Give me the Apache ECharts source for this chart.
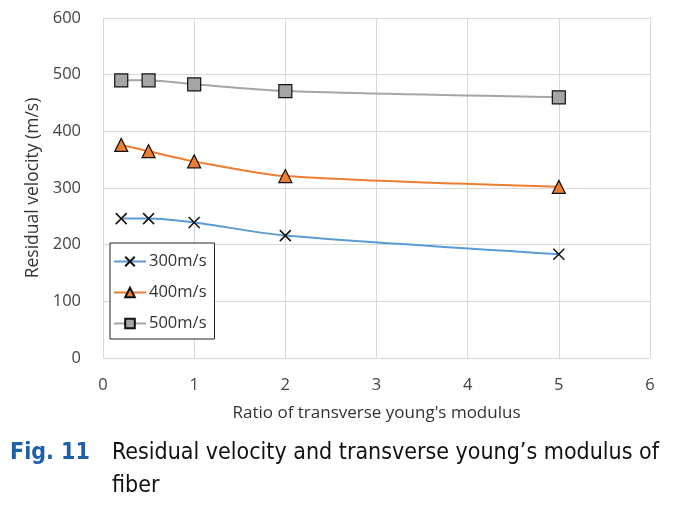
<!DOCTYPE html>
<html><head><meta charset="utf-8">
<script src="https://cdn.jsdelivr.net/npm/echarts@6/dist/echarts.min.js"></script>
<style>html,body{margin:0;padding:0;background:#fff}#c{width:684px;height:506px}</style>
</head><body><div id="c"></div>
<script>
const xValues = [0.2, 0.5, 1, 2, 5];
const s300 = [246, 246, 239, 216, 183];
const s400 = [376, 365, 347, 321, 302];
const s500 = [490, 490, 483, 471, 460];
const seriesNames = ['300m/s', '400m/s', '500m/s'];
const xTitle = 'Ratio of transverse young\'s modulus';
const yTitle = 'Residual velocity (m/s)';
const captionLabel = 'Fig. 11';
const captionLine1 = 'Residual velocity and transverse young\u2019s modulus of';
const captionLine2 = 'fiber';

const crossPath = 'path://M0,0 L10,10 M10,0 L0,10';
const pair = arr => xValues.map((x, i) => [x, arr[i]]);
const font = '"Open Sans", Lato, sans-serif';
const capFont = '"Liberation Sans Narrow", "DejaVu Sans Condensed", sans-serif';
const chart = echarts.init(document.getElementById('c'));
chart.setOption({
  animation: false,
  backgroundColor: '#fff',
  grid: { left: 103, right: 34, top: 18, bottom: 148 },
  xAxis: {
    type: 'value', min: 0, max: 6, interval: 1,
    name: xTitle, nameLocation: 'middle', nameGap: 47,
    nameTextStyle: { fontFamily: font, fontSize: 17, color: '#333' },
    axisLine: { show: false }, axisTick: { show: false },
    axisLabel: { fontFamily: font, fontSize: 16.5, color: '#444', margin: 19 },
    splitLine: { show: true, lineStyle: { color: '#d9d9d9', width: 1 } }
  },
  yAxis: {
    type: 'value', min: 0, max: 600, interval: 100,
    name: yTitle, nameLocation: 'middle', nameGap: 59,
    nameTextStyle: { fontFamily: font, fontSize: 17.5, color: '#333' },
    axisLine: { show: false }, axisTick: { show: false },
    axisLabel: { fontFamily: font, fontSize: 16.5, color: '#444', margin: 22 },
    splitLine: { show: true, lineStyle: { color: '#d9d9d9', width: 1 } }
  },
  legend: {
    orient: 'vertical', left: 110, top: 243,
    itemWidth: 32, itemHeight: 12, itemGap: 14,
    padding: [10, 8, 7, 3],
    borderColor: '#222', borderWidth: 1, backgroundColor: '#fff',
    textStyle: { fontFamily: font, fontSize: 16.5, color: '#333', padding: [0, 0, 0, -2] },
    data: seriesNames
  },
  series: [
    { name: seriesNames[0], type: 'line', smooth: 0.25, data: pair(s300),
      symbol: crossPath, symbolSize: 11,
      lineStyle: { color: '#5B9BD5', width: 2 },
      itemStyle: { color: '#5B9BD5', borderColor: '#111', borderWidth: 1.5 } },
    { name: seriesNames[1], type: 'line', smooth: 0.25, data: pair(s400),
      symbol: 'triangle', symbolSize: 13,
      lineStyle: { color: '#ED7D31', width: 2 },
      itemStyle: { color: '#ED7D31', borderColor: '#111', borderWidth: 1.2 } },
    { name: seriesNames[2], type: 'line', smooth: 0.25, data: pair(s500),
      symbol: 'rect', symbolSize: 13,
      lineStyle: { color: '#A5A5A5', width: 2 },
      itemStyle: { color: '#A5A5A5', borderColor: '#111', borderWidth: 1.2 } }
  ],
  graphic: [
    { type: 'text', left: 10, top: 442,
      style: { text: captionLabel, fontFamily: capFont, fontWeight: 'bold', fontSize: 23, fill: '#1f5fa8' } },
    { type: 'text', left: 112, top: 442,
      style: { text: captionLine1, fontFamily: capFont, fontSize: 23, fill: '#111' } },
    { type: 'text', left: 112, top: 475,
      style: { text: captionLine2, fontFamily: capFont, fontSize: 23, fill: '#111' } }
  ]
});
</script></body></html>
